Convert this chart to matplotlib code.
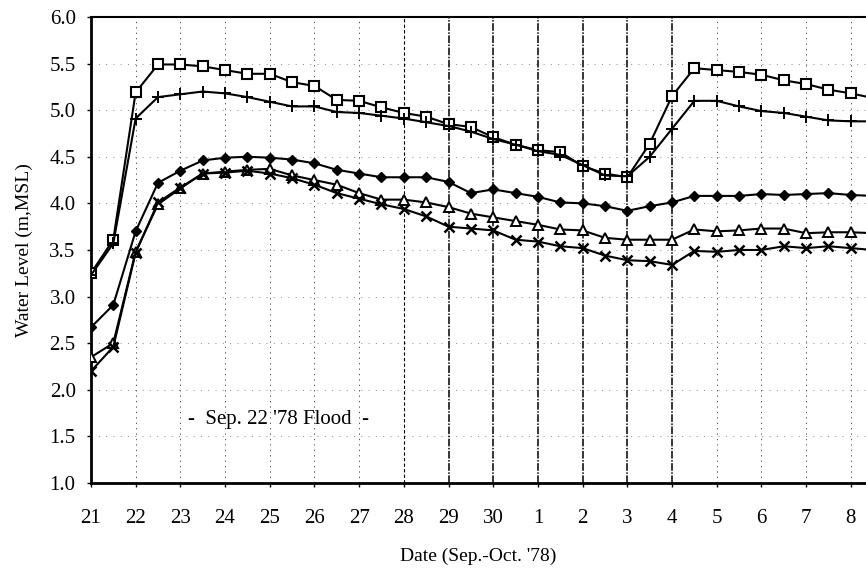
"""Water level hydrographs at five gauging stations during the Sep. 1978 flood."""
import matplotlib

matplotlib.use("Agg")
import matplotlib.pyplot as plt
import numpy as np

# Half-day readings from Sep. 21 (day 0) to Oct. 8 12h (day 17.5)
DAYS = np.arange(0, 17.51, 0.5)
DAY_LABELS = ["21", "22", "23", "24", "25", "26", "27", "28", "29", "30",
              "1", "2", "3", "4", "5", "6", "7", "8"]

LEVEL_SQUARE = [3.25, 3.61, 5.19, 5.49, 5.49, 5.47, 5.43, 5.39, 5.39, 5.30,
                5.26, 5.11, 5.10, 5.03, 4.97, 4.93, 4.85, 4.82, 4.71, 4.63,
                4.57, 4.55, 4.40, 4.32, 4.28, 4.64, 5.15, 5.45, 5.43, 5.41,
                5.38, 5.32, 5.28, 5.22, 5.18, 5.13]
LEVEL_PLUS = [3.23, 3.57, 4.91, 5.14, 5.17, 5.20, 5.18, 5.14, 5.09, 5.04,
              5.04, 4.98, 4.97, 4.94, 4.91, 4.87, 4.83, 4.77, 4.69, 4.63,
              4.56, 4.52, 4.41, 4.30, 4.29, 4.50, 4.80, 5.10, 5.10, 5.04,
              4.99, 4.97, 4.93, 4.89, 4.88, 4.88]
LEVEL_DIAMOND = [2.67, 2.91, 3.70, 4.22, 4.35, 4.46, 4.49, 4.50, 4.49, 4.47,
                 4.43, 4.36, 4.32, 4.28, 4.28, 4.28, 4.23, 4.11, 4.15, 4.11,
                 4.07, 4.01, 4.00, 3.97, 3.92, 3.97, 4.01, 4.08, 4.08, 4.08,
                 4.10, 4.09, 4.10, 4.11, 4.09, 4.08]
LEVEL_TRIANGLE = [2.35, 2.50, 3.48, 3.99, 4.16, 4.32, 4.34, 4.36, 4.37, 4.30,
                  4.25, 4.20, 4.11, 4.04, 4.04, 4.01, 3.96, 3.89, 3.85, 3.81,
                  3.77, 3.72, 3.71, 3.63, 3.61, 3.61, 3.61, 3.72, 3.70, 3.71,
                  3.73, 3.73, 3.68, 3.69, 3.69, 3.68]
LEVEL_CROSS = [2.20, 2.46, 3.47, 4.01, 4.17, 4.32, 4.33, 4.35, 4.32, 4.27,
               4.20, 4.11, 4.05, 3.99, 3.94, 3.86, 3.75, 3.73, 3.71, 3.61,
               3.59, 3.54, 3.52, 3.44, 3.39, 3.38, 3.34, 3.49, 3.48, 3.50,
               3.50, 3.54, 3.52, 3.54, 3.52, 3.50]

plt.rcParams.update(
    {
        "font.family": ["Liberation Serif", "DejaVu Serif"],
        "font.size": 13,
        "xtick.labelsize": 15,
        "ytick.labelsize": 15,
    }
)

fig = plt.figure(figsize=(8.66, 5.74), dpi=100)
ax = fig.add_axes([0.105, 0.1585, 0.895, 0.812])

# grid: sparse dotted horizontals, dashed day verticals (heavier mid-period)
for level in np.arange(1.5, 6.0, 0.5):
    ax.axhline(level, color="black", linewidth=0.5, alpha=0.6,
               linestyle=(0, (1.5, 9)), zorder=1)
for day in range(1, 18):
    if 8 <= day <= 13:
        ax.axvline(day, color="black", linewidth=1.1, linestyle=(0, (5, 1, 1, 1)), zorder=1)
    elif day == 7:
        ax.axvline(day, color="black", linewidth=0.8, linestyle=(0, (3, 2)), zorder=1)
    else:
        ax.axvline(day, color="black", linewidth=0.6, alpha=0.8,
                   linestyle=(0, (1.5, 5)), zorder=1)

line_kw = dict(color="black", linewidth=1.5, zorder=3)
ax.plot(DAYS, LEVEL_SQUARE, marker="s", markersize=6.5, markerfacecolor="white",
        markeredgewidth=1.5, **line_kw)
ax.plot(DAYS, LEVEL_PLUS, marker="+", markersize=8, markeredgewidth=1.4, **line_kw)
ax.plot(DAYS, LEVEL_DIAMOND, marker="D", markersize=5.5, markerfacecolor="black", **line_kw)
ax.plot(DAYS, LEVEL_TRIANGLE, marker="^", markersize=6.5, markerfacecolor="white",
        markeredgewidth=1.4, **line_kw)
ax.plot(DAYS, LEVEL_CROSS, marker="x", markersize=7, markeredgewidth=1.8, **line_kw)

ax.text(4.2, 1.68, "-  Sep. 22 '78 Flood  -", ha="center", va="center", fontsize=15)

ax.set_xlim(0, 17.34)
ax.set_ylim(1.0, 6.0)
ax.set_xticks(range(len(DAY_LABELS)), DAY_LABELS)
ax.set_yticks(np.arange(1.0, 6.01, 0.5), [f"{v:.1f}" for v in np.arange(1.0, 6.01, 0.5)])
ax.tick_params(direction="out", length=3, width=1)
ax.tick_params(axis="x", pad=16)
ax.tick_params(axis="y", pad=8)

for side in ("left", "bottom"):
    ax.spines[side].set_linewidth(2.0)
ax.spines["top"].set_linewidth(1.5)
ax.spines["right"].set_visible(False)

ax.set_xlabel("Date (Sep.-Oct. '78)", fontsize=14, labelpad=14)
ax.set_ylabel("Water Level (m,MSL)", fontsize=14, labelpad=12)

fig.savefig("out.png", dpi=100)
